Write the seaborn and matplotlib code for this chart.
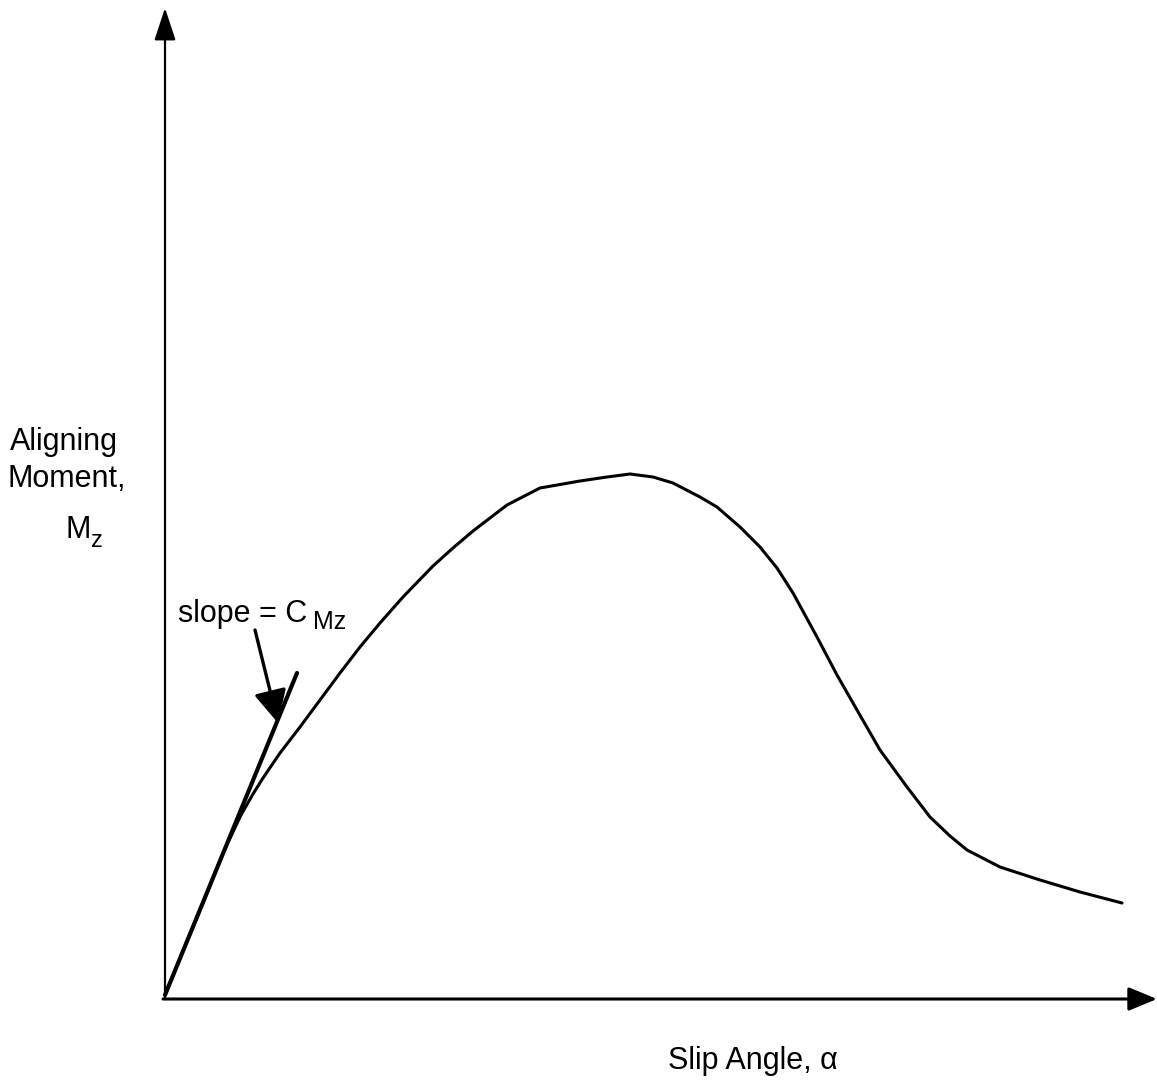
import matplotlib
matplotlib.use("Agg")
import matplotlib.pyplot as plt
import seaborn as sns
import pandas as pd

# Slip angle (arbitrary units) and aligning moment (arbitrary units)
slip_angle = [0, 25, 40, 58, 76, 88, 98, 115, 135, 155, 175, 195, 215, 238,
              268, 288, 308, 342, 375, 415, 442, 465, 488, 508, 535, 552, 575,
              595, 612, 628, 652, 672, 692, 715, 742, 765, 785, 802, 835, 875,
              915, 957]
aligning_moment = [0, 61, 97, 142, 180, 201, 217, 242, 268, 295, 322, 348, 372,
                   398, 429, 447, 464, 490, 507, 514, 518, 521, 518, 512, 498,
                   488, 468, 448, 427, 402, 358, 320, 285, 245, 208, 178, 159,
                   145, 128, 115, 103, 92]

# Tangent line (initial slope)
tangent_x = [0, 132]
tangent_y = [0, 322]

sns.set_style("white")
plt.rcParams['font.family'] = ['Liberation Sans', 'DejaVu Sans']
plt.rcParams['text.color'] = 'black'

fig = plt.figure(figsize=(11.57, 10.84), dpi=100)
ax = fig.add_axes([0, 0, 1, 1])
ax.set_xlim(-165, 992)
ax.set_ylim(-89, 995)
ax.axis("off")

df = pd.DataFrame({"alpha": slip_angle, "Mz": aligning_moment})
sns.lineplot(data=df, x="alpha", y="Mz", ax=ax, color="black", lw=2.2,
             sort=False, estimator=None, solid_joinstyle="round",
             solid_capstyle="round")
tdf = pd.DataFrame({"x": tangent_x, "y": tangent_y})
sns.lineplot(data=tdf, x="x", y="y", ax=ax, color="black", lw=3.0,
             sort=False, estimator=None, solid_capstyle="round")

# Axes with arrows
ax.annotate("", xy=(0, 987), xytext=(0, -3),
            arrowprops=dict(arrowstyle="-|>,head_length=1.0,head_width=0.33",
                            color="black", lw=1.6, mutation_scale=20,
                            shrinkA=0, shrinkB=0))
ax.annotate("", xy=(992, -4), xytext=(-2, -4),
            arrowprops=dict(arrowstyle="-|>,head_length=0.87,head_width=0.36",
                            color="black", lw=2.2, mutation_scale=20,
                            shrinkA=0, shrinkB=0))

# Slope annotation arrow
ax.annotate("", xy=(113, 272), xytext=(90, 365),
            arrowprops=dict(arrowstyle="-|>,head_length=1.0,head_width=0.5",
                            color="black", lw=2.4, mutation_scale=20,
                            shrinkA=0, shrinkB=0))

ax.text(13, 373, "slope = C", fontsize=22, ha="left", va="baseline")
ax.text(148, 366, "Mz", fontsize=18, ha="left", va="baseline")

# Y-axis label
ax.text(-155, 545, "Aligning", fontsize=22, ha="left", va="baseline")
ax.text(-157, 508, "Moment,", fontsize=22, ha="left", va="baseline")
ax.text(-100, 457, "M", fontsize=22, ha="left", va="baseline")
ax.text(-74, 448, "z", fontsize=17, ha="left", va="baseline")

# X-axis label
ax.text(503, -74, "Slip Angle, α", fontsize=22, ha="left", va="baseline")

fig.savefig("out.png", dpi=100, facecolor="white")
